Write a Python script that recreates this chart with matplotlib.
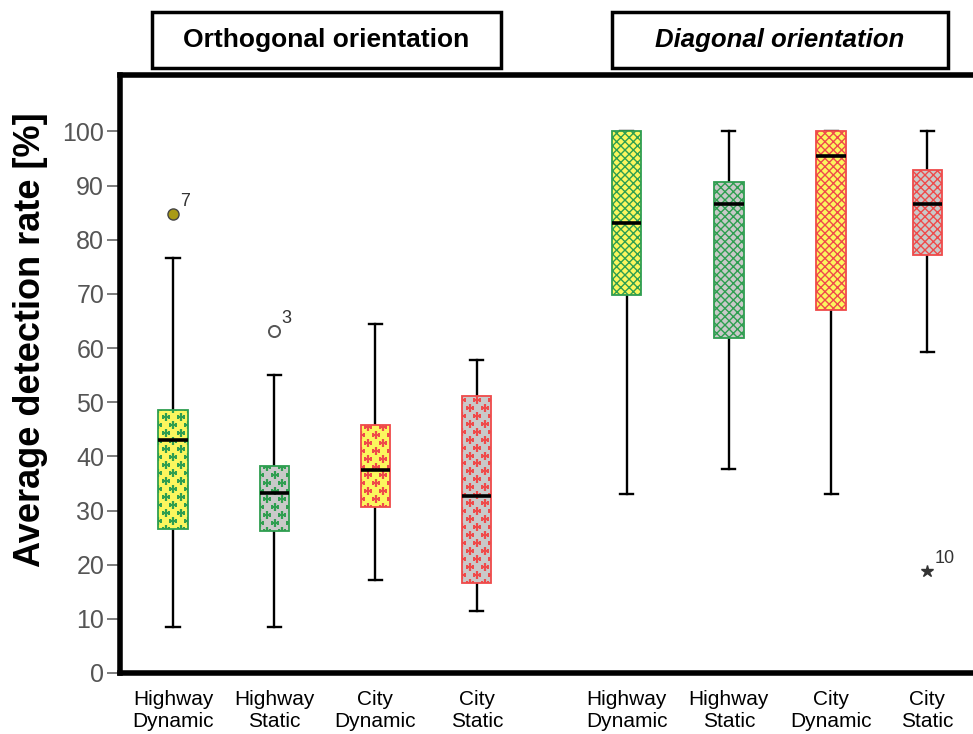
import matplotlib
matplotlib.use("Agg")
import matplotlib.pyplot as plt
from matplotlib.patches import Rectangle
import numpy as np

plt.rcParams['font.family'] = ['Liberation Sans', 'DejaVu Sans']
plt.rcParams['hatch.linewidth'] = 1.0

# ---------------------------------------------------------------- data
categories = ["Highway\nDynamic", "Highway\nStatic", "City\nDynamic", "City\nStatic"]
group_titles = ["Orthogonal orientation", "Diagonal orientation"]
y_ticks = [0, 10, 20, 30, 40, 50, 60, 70, 80, 90, 100]

# orthogonal orientation: box-plot summaries per category
orth_whislo = [8.5, 8.5, 17.1, 11.4]
orth_q1 = [26.6, 26.3, 30.7, 16.6]
orth_med = [43.1, 33.2, 37.5, 32.7]
orth_q3 = [48.6, 38.3, 45.7, 51.2]
orth_whishi = [76.6, 55.0, 64.5, 57.7]

# diagonal orientation: box-plot summaries per category
diag_whislo = [33.1, 37.7, 33.1, 59.3]
diag_q1 = [69.8, 61.8, 67.1, 77.1]
diag_med = [83.0, 86.5, 95.5, 86.6]
diag_q3 = [100.0, 90.6, 100.0, 92.8]
diag_whishi = [100.0, 100.0, 100.0, 100.0]

# individual outlying cases
outlier_group = [0, 0, 1]          # 0 = orthogonal, 1 = diagonal
outlier_cat = [0, 1, 3]
outlier_value = [84.8, 63.1, 18.8]
outlier_case = ["7", "3", "10"]
outlier_kind = ["filled", "open", "extreme"]

# ---------------------------------------------------------------- styling
YELLOW = "#fbf65e"
GREY = "#c9c9c9"
GREEN = "#2f9e50"
RED = "#ef4a4a"
fill_colors = [YELLOW, GREY, YELLOW, GREY]
pattern_colors = [GREEN, GREEN, RED, RED]

group_positions = [[1.0, 2.0, 3.0, 4.0], [5.48, 6.49, 7.5, 8.45]]
box_width = 0.29
cap_width = 0.13

fig = plt.figure(figsize=(9.73, 7.34), dpi=100)
ax = fig.add_axes([120 / 973, 1 - 673 / 734, (978 - 120) / 973, (673 - 74.5) / 734])
ax.set_xlim(0.477, 8.95)
ax.set_ylim(0.37, 110.5)

# pixel scale of the data axes (for the plus-sign fill pattern)
p0 = ax.transData.transform((0, 0))
p1 = ax.transData.transform((1, 1))
px_x = p1[0] - p0[0]
px_y = p1[1] - p0[1]


def summaries(whislo, q1, med, q3, whishi):
    return [dict(whislo=a, q1=b, med=c, q3=d, whishi=e, fliers=[])
            for a, b, c, d, e in zip(whislo, q1, med, q3, whishi)]


def plus_pattern(patch, x, lo, hi, color):
    col_step = 15.0 / px_x
    row_step = 8.0 / px_y
    x0 = x - box_width / 2 - col_step
    x1 = x + box_width / 2 + col_step
    xs, ys = [], []
    j = 0
    y = lo - row_step
    while y <= hi + row_step:
        off = 0.5 * col_step if j % 2 else 0.0
        xx = x0 + off
        while xx <= x1:
            xs.append(xx)
            ys.append(y)
            xx += col_step
        y += row_step
        j += 1
    ln, = ax.plot(xs, ys, linestyle="none", marker="+", markersize=6.0,
                  markeredgewidth=1.6, color=color, zorder=3.5)
    ln.set_clip_path(patch)


all_stats = [
    summaries(orth_whislo, orth_q1, orth_med, orth_q3, orth_whishi),
    summaries(diag_whislo, diag_q1, diag_med, diag_q3, diag_whishi),
]

for g, stats in enumerate(all_stats):
    bp = ax.bxp(stats, positions=group_positions[g], widths=box_width,
                capwidths=cap_width, patch_artist=True, showfliers=False,
                manage_ticks=False,
                boxprops=dict(linewidth=1.3, zorder=3),
                whiskerprops=dict(color="black", linewidth=1.7, zorder=2),
                capprops=dict(color="black", linewidth=1.7, zorder=2),
                medianprops=dict(color="black", linewidth=2.6, zorder=4))
    for k, box in enumerate(bp["boxes"]):
        box.set_facecolor(fill_colors[k])
        box.set_edgecolor(pattern_colors[k])
        if g == 0:
            plus_pattern(box, group_positions[g][k], stats[k]["q1"],
                         stats[k]["q3"], pattern_colors[k])
        else:
            box.set_hatch("xxxx")

# outlying cases with their case numbers
for grp, cat, val, case, kind in zip(outlier_group, outlier_cat, outlier_value,
                                     outlier_case, outlier_kind):
    x = group_positions[grp][cat]
    if kind == "filled":
        ax.plot(x, val, marker="o", markersize=8, markerfacecolor="#a99a16",
                markeredgecolor="#444444", markeredgewidth=1.0, zorder=5)
    elif kind == "open":
        ax.plot(x, val, marker="o", markersize=8, markerfacecolor="white",
                markeredgecolor="#555555", markeredgewidth=1.4, zorder=5)
    else:
        ax.plot(x, val, marker="*", markersize=9, color="#333333", zorder=5)
    ax.annotate(case, (x, val), xytext=(5, 3), textcoords="offset points",
                fontsize=13, color="#333333", ha="left", va="bottom")

# axes frame
for side in ("left", "bottom", "top"):
    ax.spines[side].set_linewidth(4.0)
    ax.spines[side].set_color("black")
ax.spines["right"].set_visible(False)

ax.set_yticks(y_ticks)
ax.set_yticklabels([str(t) for t in y_ticks])
ax.tick_params(axis="y", length=9.4, width=1.2, color="#666666",
               labelcolor="#555555", labelsize=18, pad=2)
ax.set_xticks(group_positions[0] + group_positions[1])
ax.set_xticklabels(categories + categories, linespacing=1.25)
ax.tick_params(axis="x", length=0, labelsize=15, labelcolor="black", pad=12)

ax.set_ylabel("Average detection rate [%]", fontsize=26, fontweight="bold",
              va="center")
ax.yaxis.set_label_coords((31 - 120) / 858, (673 - 340) / 598.5)

# group title boxes above the plot
title_boxes = [(152, 12, 501, 68), (612, 12, 948, 68)]
for (l, t, r, b), title, italic in zip(title_boxes, group_titles, [False, True]):
    fig.add_artist(Rectangle((l / 973, 1 - b / 734), (r - l) / 973, (b - t) / 734,
                             transform=fig.transFigure, facecolor="white",
                             edgecolor="black", linewidth=2.5))
    fig.text((l + r) / 2 / 973, 1 - (t + b) / 2 / 734, title, ha="center",
             va="center", fontsize=19 if not italic else 18.5,
             fontweight="bold", style="italic" if italic else "normal")

fig.savefig("out.png", dpi=100)
